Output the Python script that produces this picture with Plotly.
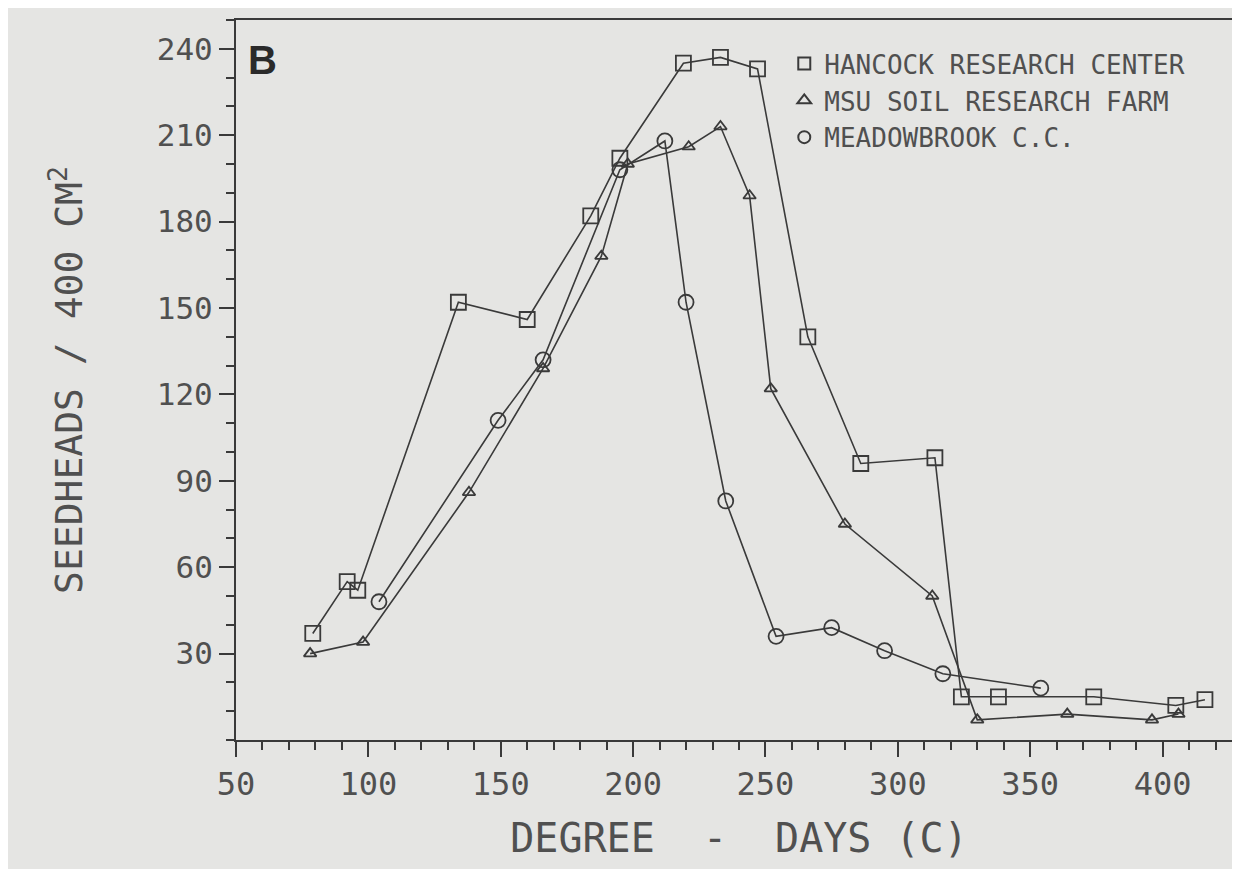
import plotly.graph_objects as go

# ---- data ----
hancock_x = [79, 92, 96, 134, 160, 184, 195, 219, 233, 247, 266, 286, 314, 324, 338, 374, 405, 416]
hancock_y = [37, 55, 52, 152, 146, 182, 202, 235, 237, 233, 140, 96, 98, 15, 15, 15, 12, 14]

msu_x = [78, 98, 138, 166, 188, 198, 221, 233, 244, 252, 280, 313, 330, 364, 396, 406]
msu_y = [30, 34, 86, 129, 168, 200, 206, 213, 189, 122, 75, 50, 7, 9, 7, 9]

meadow_x = [104, 149, 166, 195, 212, 220, 235, 254, 275, 295, 317, 354]
meadow_y = [48, 111, 132, 198, 208, 152, 83, 36, 39, 31, 23, 18]

series_names = ["HANCOCK RESEARCH CENTER", "MSU SOIL RESEARCH FARM", "MEADOWBROOK C.C."]
x_ticks = [50, 100, 150, 200, 250, 300, 350, 400]
y_ticks = [30, 60, 90, 120, 150, 180, 210, 240]

INK = "#3a3a3a"
TXT = "#505050"
BG = "#e5e5e3"
MONO = "DejaVu Sans Mono"

fig = go.Figure()

styles = [
    ("square-open", 15),
    ("triangle-up-open", 11),
    ("circle-open", 15),
]
data = [(hancock_x, hancock_y), (msu_x, msu_y), (meadow_x, meadow_y)]

for (xs, ys), (sym, sz), name in zip(data, styles, series_names):
    fig.add_trace(go.Scatter(
        x=xs, y=ys, mode="lines+markers", name=name, showlegend=False,
        line=dict(color=INK, width=1.6),
        marker=dict(symbol=sym, size=sz, color=INK, line=dict(color=INK, width=1.8)),
    ))
    # legend-only marker entry
    fig.add_trace(go.Scatter(
        x=[None], y=[None], mode="markers", name=name, showlegend=True,
        marker=dict(symbol=sym, size=12, color=INK, line=dict(color=INK, width=1.6)),
    ))

fig.update_layout(
    width=1240, height=869, autosize=False,
    margin=dict(l=228, r=4, t=12, b=137),
    paper_bgcolor=BG, plot_bgcolor=BG,
    showlegend=True,
    legend=dict(
        x=0.545, y=0.972, xanchor="left", yanchor="top",
        bgcolor="rgba(0,0,0,0)", borderwidth=0,
        font=dict(family=MONO, size=26, color=TXT),
        itemsizing="constant", tracegroupgap=0,
    ),
    font=dict(family=MONO, color=TXT),
)

fig.update_xaxes(
    range=[50, 430], tickvals=x_ticks, ticktext=[str(v) for v in x_ticks],
    showgrid=False, zeroline=False,
    showline=True, mirror=True, linecolor=INK, linewidth=2,
    ticks="outside", ticklen=15, tickwidth=2, tickcolor=INK,
    minor=dict(dtick=10, tick0=50, ticks="outside", ticklen=8, tickwidth=1.5, tickcolor=INK, showgrid=False),
    tickfont=dict(family=MONO, size=32, color=TXT),
    title=dict(text="DEGREE  -  DAYS (C)", font=dict(family=MONO, size=40, color=TXT), standoff=22),
)
fig.update_yaxes(
    range=[0, 250], tickvals=y_ticks, ticktext=[str(v) for v in y_ticks],
    showgrid=False, zeroline=False,
    showline=True, mirror=True, linecolor=INK, linewidth=2,
    ticks="outside", ticklen=15, tickwidth=2, tickcolor=INK,
    minor=dict(dtick=10, tick0=0, ticks="outside", ticklen=8, tickwidth=1.5, tickcolor=INK, showgrid=False),
    tickfont=dict(family=MONO, size=31, color=TXT),
    title=dict(text="SEEDHEADS / 400 CM<sup>2</sup>", font=dict(family=MONO, size=38, color=TXT), standoff=62),
)

fig.add_annotation(
    text="<b>B</b>", xref="paper", yref="paper", x=0.01, y=0.945,
    xanchor="left", yanchor="middle", showarrow=False,
    font=dict(family="Liberation Sans", size=40, color="#2a2a2a"),
)

fig.write_html("out.html")
